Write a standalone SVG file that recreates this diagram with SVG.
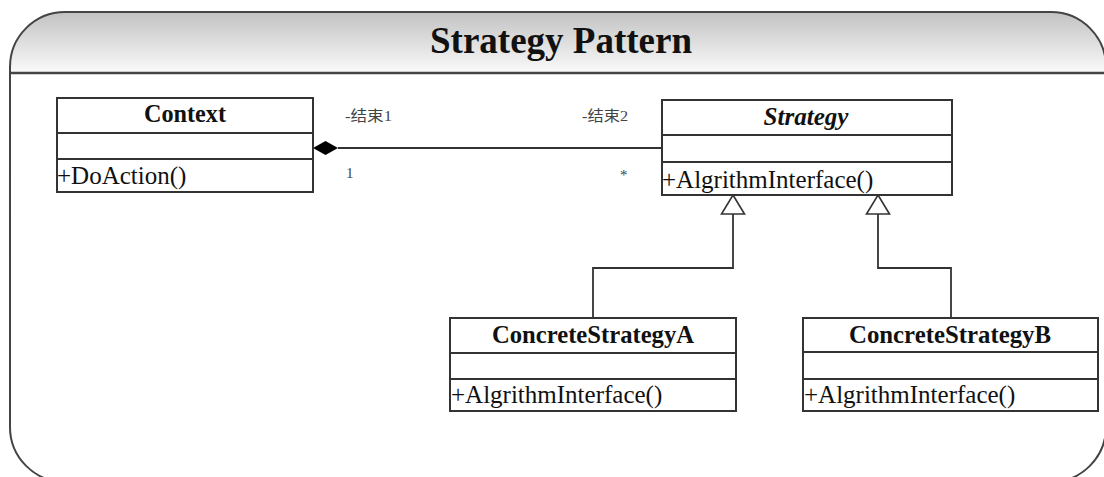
<svg xmlns="http://www.w3.org/2000/svg" width="1104" height="477" viewBox="0 0 1104 477">
<defs>
<linearGradient id="hdr" x1="0" y1="0" x2="0" y2="1">
<stop offset="0" stop-color="#c2c2c2"/>
<stop offset="0.85" stop-color="#f2f2f2"/>
<stop offset="1" stop-color="#fafafa"/>
</linearGradient>
</defs>
<style>
.box{fill:#fff;stroke:#333;stroke-width:2}
.sep{stroke:#333;stroke-width:2}
.name{font-family:"Liberation Serif","Times New Roman",serif;font-weight:bold;font-size:26px;fill:#111;text-anchor:middle}
.op{font-family:"Liberation Serif","Times New Roman",serif;font-size:25px;fill:#111}
.lbl{font-family:"Liberation Serif","Noto Sans CJK SC",serif;font-size:15px;fill:#444}
.conn{fill:none;stroke:#333;stroke-width:1.8}
.head{fill:#fff;stroke:#333;stroke-width:1.6}
</style>
<rect x="0" y="0" width="1104" height="477" fill="#fff"/>
<g id="frame">
<path d="M10,73 L10,67 A55,55 0 0 1 65,12 L1051,12 A55,55 0 0 1 1106,67 L1106,73 Z" fill="url(#hdr)"/>
<path d="M10,67 A55,55 0 0 1 65,12 L1051,12 A55,55 0 0 1 1106,67 L1106,427 A55,55 0 0 1 1051,482 L65,482 A55,55 0 0 1 10,427 Z" fill="none" stroke="#444" stroke-width="2"/>
<line x1="10" y1="73" x2="1106" y2="73" stroke="#444" stroke-width="2.5"/>
<text x="561" y="53" font-family="'Liberation Serif','Times New Roman',serif" font-weight="bold" font-size="37" fill="#111" text-anchor="middle">Strategy Pattern</text>
</g>
<g id="connectors">
<path class="conn" d="M338,148 L662,148"/>
<path d="M313,148 L325.5,141 L338,148 L325.5,155 Z" fill="#000"/>
<path class="conn" d="M733,214 L733,268 L593,268 L593,318"/>
<path class="head" d="M733,195 L744.5,214 L721.5,214 Z"/>
<path class="conn" d="M878,214 L878,268 L951,268 L951,318"/>
<path class="head" d="M878,195 L889.5,214 L866.5,214 Z"/>
<text class="lbl" x="345" y="121" textLength="47" lengthAdjust="spacingAndGlyphs">-结束1</text>
<text class="lbl" x="582" y="121" textLength="46" lengthAdjust="spacingAndGlyphs">-结束2</text>
<text class="lbl" x="346" y="178">1</text>
<text class="lbl" x="620" y="180">*</text>
</g>
<g id="Context">
<rect class="box" x="57" y="98" width="256" height="94"/>
<line class="sep" x1="57" y1="133" x2="313" y2="133"/>
<line class="sep" x1="57" y1="159" x2="313" y2="159"/>
<text class="name" x="185" y="122" textLength="82" lengthAdjust="spacingAndGlyphs">Context</text>
<text class="op" x="57" y="184">+DoAction()</text>
</g>
<g id="Strategy">
<rect class="box" x="662" y="100" width="290" height="95"/>
<line class="sep" x1="662" y1="135" x2="952" y2="135"/>
<line class="sep" x1="662" y1="162" x2="952" y2="162"/>
<text class="name" x="806" y="125" font-style="italic" textLength="85" lengthAdjust="spacingAndGlyphs">Strategy</text>
<text class="op" x="662" y="188">+AlgrithmInterface()</text>
</g>
<g id="ConcreteStrategyA">
<rect class="box" x="450" y="318" width="286" height="93"/>
<line class="sep" x1="450" y1="353" x2="736" y2="353"/>
<line class="sep" x1="450" y1="379" x2="736" y2="379"/>
<text class="name" x="593" y="343" textLength="202" lengthAdjust="spacingAndGlyphs">ConcreteStrategyA</text>
<text class="op" x="451" y="403">+AlgrithmInterface()</text>
</g>
<g id="ConcreteStrategyB">
<rect class="box" x="803" y="318" width="295" height="93"/>
<line class="sep" x1="803" y1="352" x2="1098" y2="352"/>
<line class="sep" x1="803" y1="379" x2="1098" y2="379"/>
<text class="name" x="950" y="343" textLength="202" lengthAdjust="spacingAndGlyphs">ConcreteStrategyB</text>
<text class="op" x="804" y="403">+AlgrithmInterface()</text>
</g>
</svg>
